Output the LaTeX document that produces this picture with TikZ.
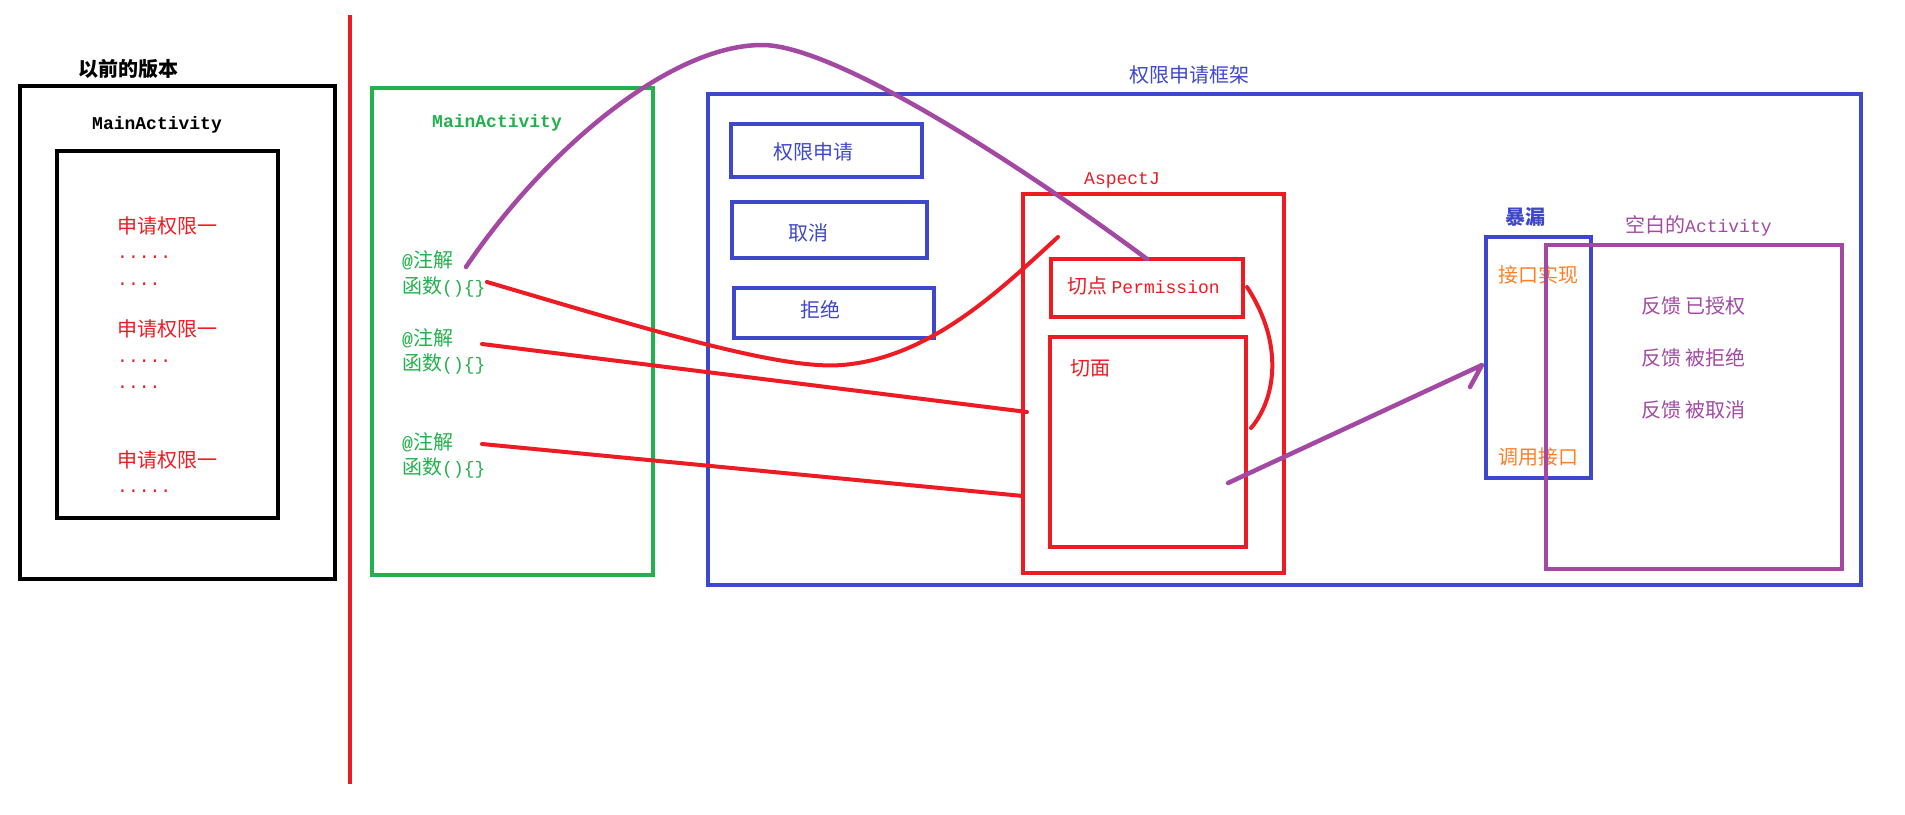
\documentclass[tikz,border=0pt]{standalone}
\usepackage{fontspec}
\setmainfont{Noto Sans CJK SC}
\setmonofont{Liberation Mono}
\usetikzlibrary{calc}
\definecolor{pred}{HTML}{ED1C24}
\definecolor{pgreen}{HTML}{22B14C}
\definecolor{pblue}{HTML}{3F48CC}
\definecolor{ppurple}{HTML}{A349A4}
\definecolor{porange}{HTML}{FF7F27}
\newcommand\mono[1]{{\fontsize{18}{22}\selectfont\ttfamily #1}}

\begin{document}
\begin{tikzpicture}[x=1pt,y=-1pt,
  frame/.style={draw=#1, line width=4pt, inner sep=0pt, outer sep=0pt},
  sz/.style 2 args={minimum width=#1pt, minimum height=#2pt},
  lbl/.style={text=#1, anchor=west, inner sep=0pt, font=\fontsize{20}{24}\selectfont},
  wire/.style={draw=#1, line width=4pt, line cap=round, line join=round},
]
\useasboundingbox[fill=white] (0,0) rectangle (1905,814);

% ---------- old version ----------
\node[lbl=black, font=\fontsize{20}{24}\selectfont\bfseries] (oldT) at (78,69) {以前的版本};
\node[frame=black, line width=4.5pt, sz={315}{493}] (old) at (177.5,332.5) {};
\node[lbl=black] (oldMA) at (92,125) {\mono{\bfseries MainActivity}};
\node[frame=black, line width=4.5pt, sz={221}{367}] (oldIn) at (167.5,334.5) {};
\node[lbl=pred] (r1) at (117,226) {申请权限一};
\node[lbl=pred] (d1) at (117,257) {\mono{.....}};
\node[lbl=pred] (d2) at (117,284) {\mono{....}};
\node[lbl=pred] (r2) at (117,329) {申请权限一};
\node[lbl=pred] (d3) at (117,361) {\mono{.....}};
\node[lbl=pred] (d4) at (117,387) {\mono{....}};
\node[lbl=pred] (r3) at (117,460) {申请权限一};
\node[lbl=pred] (d5) at (117,491) {\mono{.....}};

% separator
\coordinate (sepT) at (350,15);
\coordinate (sepB) at (350,784);
\draw[wire=pred, line cap=butt] (sepT) -- (sepB);

% ---------- new MainActivity ----------
\node[frame=pgreen, sz={281}{487}] (ma) at (512.5,331.5) {};
\node[lbl=pgreen] (maT) at (432,123) {\mono{\bfseries MainActivity}};
\node[lbl=pgreen] (an1) at (402,260) {\mono{\bfseries @}注解};
\node[lbl=pgreen] (fn1) at (402,287) {函数\mono{()\{\}}};
\node[lbl=pgreen] (an2) at (402,338) {\mono{\bfseries @}注解};
\node[lbl=pgreen] (fn2) at (402,364) {函数\mono{()\{\}}};
\node[lbl=pgreen] (an3) at (402,442) {\mono{\bfseries @}注解};
\node[lbl=pgreen] (fn3) at (402,468) {函数\mono{()\{\}}};

% ---------- framework ----------
\node[frame=pblue, sz={1153}{491}] (fw) at (1284.5,339.5) {};
\node[lbl=pblue] (fwT) at (1129,75) {权限申请框架};
\node[frame=pblue, sz={191}{53}] (b1) at (826.5,150.5) {};
\node[lbl=pblue] (b1T) at (773,152) {权限申请};
\node[frame=pblue, sz={195}{56}] (b2) at (829.5,230) {};
\node[lbl=pblue] (b2T) at (788,233) {取消};
\node[frame=pblue, sz={200}{50}] (b3) at (834,313) {};
\node[lbl=pblue] (b3T) at (800,310) {拒绝};

% AspectJ
\node[frame=pred, sz={261}{379}] (asp) at (1153.5,383.5) {};
\node[lbl=pred] (aspT) at (1084,180) {\mono{AspectJ}};
\node[frame=pred, sz={192}{58}] (qd) at (1147,288) {};
\node[lbl=pred] (qdT) at (1067,286) {切点 \mono{Permission}};
\node[frame=pred, sz={196}{210}] (qm) at (1148,442) {};
\node[lbl=pred] (qmT) at (1070,368) {切面};

% exposed interface
\node[lbl=pblue, font=\fontsize{20}{24}\selectfont\bfseries] (exT) at (1505,217) {暴漏};
\node[lbl=porange] (ifImpl) at (1498,275) {接口实现};
\node[lbl=porange] (ifCall) at (1498,457) {调用接口};
\node[frame=pblue, sz={105}{241}] (ex) at (1538.5,357.5) {};

% blank activity
\node[lbl=ppurple] (blT) at (1625,226) {空白的\mono{Activity}};
\node[frame=ppurple, sz={296}{324}] (bl) at (1694,407) {};
\node[lbl=ppurple] (f1) at (1641,306) {反馈 已授权};
\node[lbl=ppurple] (f2) at (1641,358) {反馈 被拒绝};
\node[lbl=ppurple] (f3) at (1641,410) {反馈 被取消};

% ---------- connectors ----------
\coordinate (c1s) at (487,282);
\coordinate (c1m) at (842,365);
\coordinate (c1e) at (1058,237);
\draw[wire=pred] (c1s) .. controls (650,330) and (780,370) .. (c1m)
  .. controls (930,358) and (1000,290) .. (c1e);

\coordinate (c2s) at (482,344);
\coordinate (c2e) at (1027,412);
\draw[wire=pred] (c2s) -- (c2e);

\coordinate (c3s) at (482,444);
\coordinate (c3e) at (1023,496);
\draw[wire=pred] (c3s) -- (c3e);

\coordinate (c4s) at (1247,287);
\coordinate (c4e) at (1251,428);
\draw[wire=pred] (c4s) .. controls (1285,345) and (1275,400) .. (c4e);

\coordinate (pks) at (466,267);
\coordinate (pk) at (762,45);
\draw[wire=ppurple, line width=4.5pt] (pks) .. controls (545,150) and (670,45) .. (pk)
  .. controls (830,45) and (1000,150) .. (qd.north);

\coordinate (ars) at (1228,483);
\coordinate (art) at (1482,365);
\draw[wire=ppurple, line width=4.5pt] (ars) -- (art) -- ++(-12,22);

\end{tikzpicture}
\end{document}
